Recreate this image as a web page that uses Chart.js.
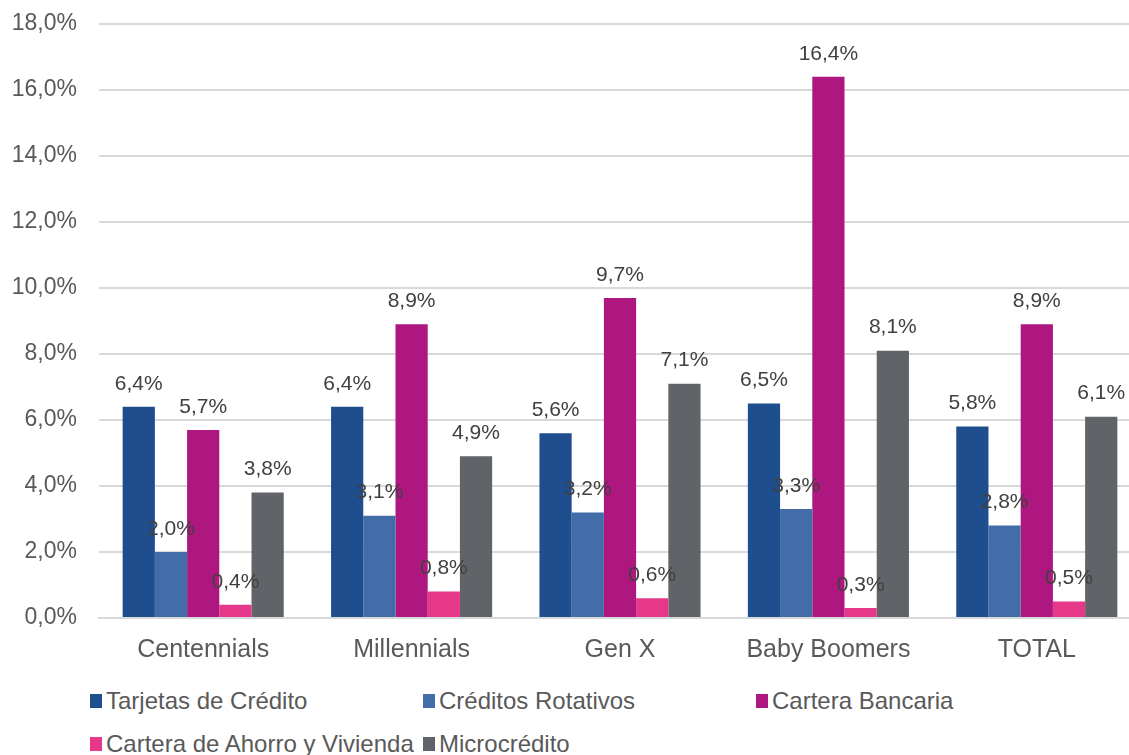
<!DOCTYPE html>
<html>
<head>
<meta charset="utf-8">
<script src="https://cdn.jsdelivr.net/npm/chart.js@4/dist/chart.umd.min.js"></script>
<style>
  html, body { margin: 0; padding: 0; background: #fff; overflow: hidden; }
  #wrap { position: relative; width: 1141px; height: 671px; }
  #legend {
    position: absolute; left: 90px; top: 688px; width: 1039px;
    display: grid; grid-template-columns: 333px 333px 333px; row-gap: 18px;
    font-family: "Liberation Sans", Arial, sans-serif; font-size: 24px; color: #595959;
  }
  #legend .item { display: flex; align-items: center; white-space: nowrap; height: 25px; }
  #legend .box { width: 12px; height: 14px; margin-right: 4px; flex: none; }
</style>
</head>
<body>
<div id="wrap"><canvas id="chart"></canvas></div>
<div id="legend"></div>
<script>
// ---- data ----
const categories = ['Centennials', 'Millennials', 'Gen X', 'Baby Boomers', 'TOTAL'];
const seriesNames = ['Tarjetas de Crédito', 'Créditos Rotativos', 'Cartera Bancaria', 'Cartera de Ahorro y Vivienda', 'Microcrédito'];
const tarjetas = [6.4, 6.4, 5.6, 6.5, 5.8];
const rotativos = [2.0, 3.1, 3.2, 3.3, 2.8];
const bancaria = [5.7, 8.9, 9.7, 16.4, 8.9];
const ahorroVivienda = [0.4, 0.8, 0.6, 0.3, 0.5];
const microcredito = [3.8, 4.9, 7.1, 8.1, 6.1];
const yTicks = [0, 2, 4, 6, 8, 10, 12, 14, 16, 18];

const colors = ['#1f4e8f', '#426da9', '#af1780', '#e6388a', '#606367'];
const seriesValues = [tarjetas, rotativos, bancaria, ahorroVivienda, microcredito];

const FONT = '"Liberation Sans", Arial, sans-serif';
const pct = (v) => v.toFixed(1).replace('.', ',') + '%';

// value labels drawn over all bars
const valueLabels = {
  id: 'valueLabels',
  afterDatasetsDraw(chart) {
    const ctx = chart.ctx;
    ctx.save();
    ctx.font = '21px ' + FONT;
    ctx.fillStyle = '#404040';
    ctx.textAlign = 'center';
    ctx.textBaseline = 'middle';
    chart.data.datasets.forEach((ds, i) => {
      chart.getDatasetMeta(i).data.forEach((bar, j) => {
        ctx.fillText(pct(ds.data[j]), bar.x, bar.y - 23);
      });
    });
    ctx.restore();
  }
};

const chart = new Chart(document.getElementById('chart'), {
  type: 'bar',
  data: {
    labels: categories,
    datasets: seriesNames.map((name, i) => ({
      label: name,
      data: seriesValues[i],
      backgroundColor: colors[i],
      borderWidth: 0,
      categoryPercentage: 0.773,
      barPercentage: 1.0
    }))
  },
  options: {
    responsive: true,
    maintainAspectRatio: false,
    animation: false,
    layout: { padding: { left: 12, top: 24, right: 0, bottom: 0 } },
    plugins: {
      legend: { display: false },
      tooltip: { enabled: false }
    },
    scales: {
      x: {
        afterFit: (axis) => { axis.height = 53; },
        grid: { display: false, drawTicks: false },
        border: { display: true, color: '#d9d9d9', width: 2 },
        ticks: { color: '#595959', font: { family: FONT, size: 25 }, padding: 17 }
      },
      y: {
        min: 0,
        max: 18,
        afterFit: (axis) => { axis.width = 87; axis.paddingTop = 0; axis.paddingBottom = 0; },
        afterBuildTicks: (axis) => { axis.ticks = yTicks.map(v => ({ value: v })); },
        border: { display: false },
        grid: { color: '#d9d9d9', lineWidth: 2, drawTicks: false },
        ticks: {
          color: '#595959',
          font: { family: FONT, size: 23 },
          padding: 22,
          callback: (value) => pct(value)
        }
      }
    }
  },
  plugins: [valueLabels]
});

// legend in a 3-column grid, built from the chart's datasets
const legendEl = document.getElementById('legend');
chart.data.datasets.forEach((ds) => {
  const item = document.createElement('div');
  item.className = 'item';
  const box = document.createElement('span');
  box.className = 'box';
  box.style.background = ds.backgroundColor;
  item.appendChild(box);
  item.appendChild(document.createTextNode(ds.label));
  legendEl.appendChild(item);
});
</script>
</body>
</html>
